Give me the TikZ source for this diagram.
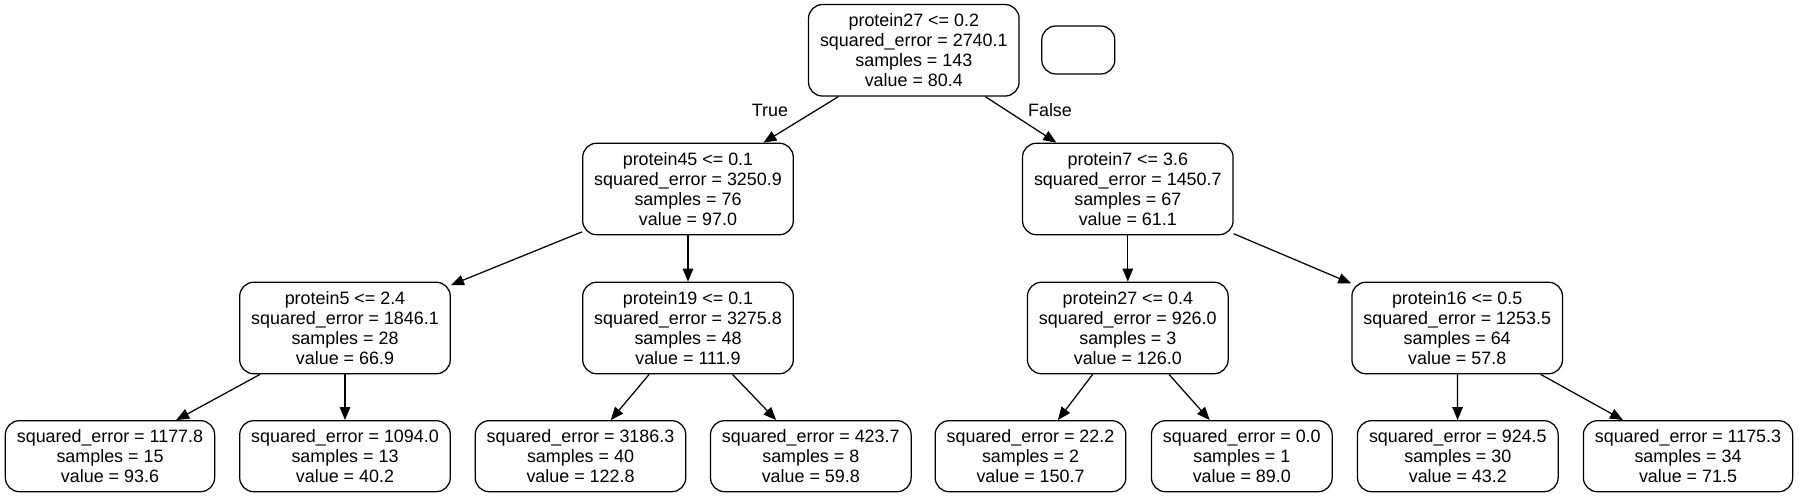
\documentclass[tikz,border=0pt]{standalone}
\usepackage{fontspec}
\setmainfont{Liberation Sans}
\usetikzlibrary{arrows.meta}

\begin{document}
\begin{tikzpicture}[x=1pt,y=1pt,
  txt/.style={font=\fontsize{17.9}{19.8}\selectfont},
  box/.style={txt,draw,line width=1.25pt,rounded corners=14pt,align=center,inner xsep=11.5pt,inner ysep=0pt},
  splitnode/.style={box,minimum height=91.5pt},
  leafnode/.style={box,minimum height=71pt},
  branch/.style={line width=1.25pt,-{Triangle[length=13pt,width=10.5pt]}}]
\useasboundingbox (0,0) rectangle (1799,497);
% splits
\node[splitnode] (root) at (913.8,446.7) {protein27 <= 0.2\\squared\_error = 2740.1\\samples = 143\\value = 80.4};
\node[box,minimum width=73pt,minimum height=48pt,inner sep=0pt] (empty) at (1078.3,447) {};
\node[splitnode] (p45) at (688,308) {protein45 <= 0.1\\squared\_error = 3250.9\\samples = 76\\value = 97.0};
\node[splitnode] (p7) at (1127.8,308) {protein7 <= 3.6\\squared\_error = 1450.7\\samples = 67\\value = 61.1};
\node[splitnode] (p5) at (345,169) {protein5 <= 2.4\\squared\_error = 1846.1\\samples = 28\\value = 66.9};
\node[splitnode] (p19) at (688,169) {protein19 <= 0.1\\squared\_error = 3275.8\\samples = 48\\value = 111.9};
\node[splitnode] (p27) at (1127.8,169) {protein27 <= 0.4\\squared\_error = 926.0\\samples = 3\\value = 126.0};
\node[splitnode] (p16) at (1457.2,169) {protein16 <= 0.5\\squared\_error = 1253.5\\samples = 64\\value = 57.8};
% leaves
\node[leafnode] (l1) at (110,40.8) {squared\_error = 1177.8\\samples = 15\\value = 93.6};
\node[leafnode] (l2) at (345,40.8) {squared\_error = 1094.0\\samples = 13\\value = 40.2};
\node[leafnode] (l3) at (580.5,40.8) {squared\_error = 3186.3\\samples = 40\\value = 122.8};
\node[leafnode] (l4) at (810.8,40.8) {squared\_error = 423.7\\samples = 8\\value = 59.8};
\node[leafnode] (l5) at (1030.5,40.8) {squared\_error = 22.2\\samples = 2\\value = 150.7};
\node[leafnode] (l6) at (1241.8,40.8) {squared\_error = 0.0\\samples = 1\\value = 89.0};
\node[leafnode] (l7) at (1457.8,40.8) {squared\_error = 924.5\\samples = 30\\value = 43.2};
\node[leafnode] (l8) at (1688,40.8) {squared\_error = 1175.3\\samples = 34\\value = 71.5};
% labels
\node[txt] (lbltrue) at (770,387) {True};
\node[txt] (lblfalse) at (1050,387) {False};
% branches
\draw[branch] (root) -- (p45);
\draw[branch] (root) -- (p7);
\draw[branch] (p45) -- (p5);
\draw[branch] (p45) -- (p19);
\draw[branch] (p7) -- (p27);
\draw[branch] (p7) -- (p16);
\draw[branch] (p5) -- (l1);
\draw[branch] (p5) -- (l2);
\draw[branch] (p19) -- (l3);
\draw[branch] (p19) -- (l4);
\draw[branch] (p27) -- (l5);
\draw[branch] (p27) -- (l6);
\draw[branch] (p16) -- (l7);
\draw[branch] (p16) -- (l8);
\end{tikzpicture}
\end{document}
